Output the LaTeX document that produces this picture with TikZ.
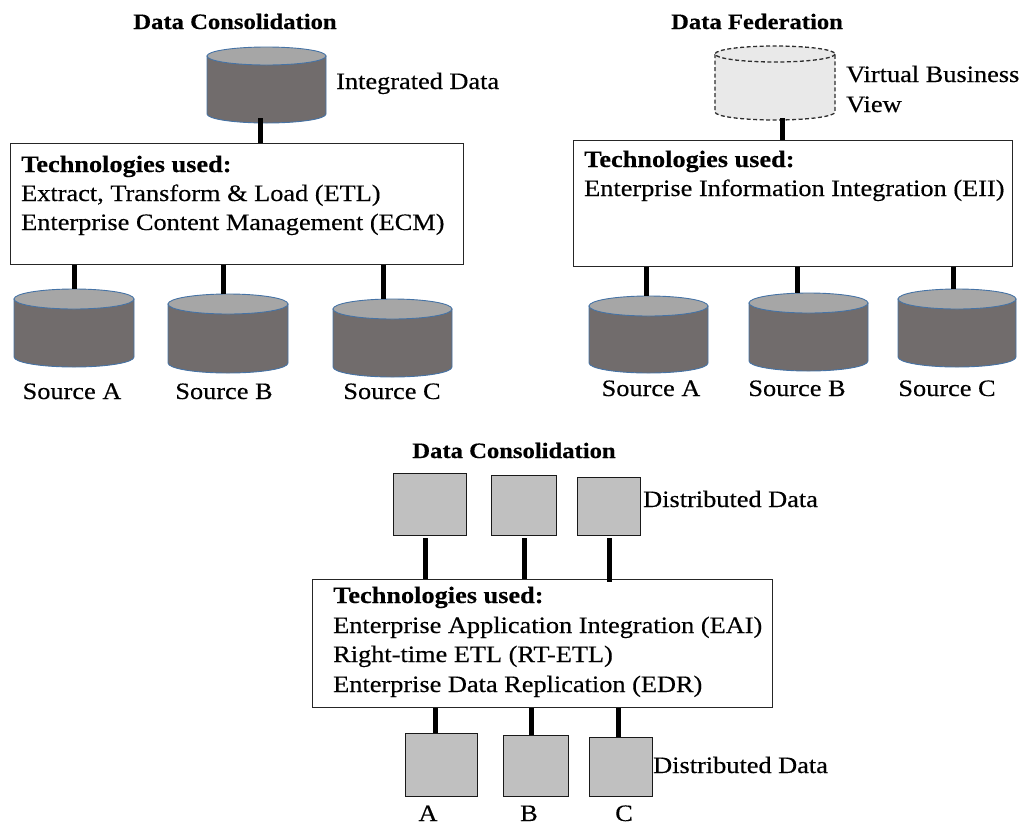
\documentclass[tikz,border=0pt]{standalone}
\usepackage{fontspec}
\setmainfont{Liberation Serif}[FakeStretch=1.12, FakeBold=0.35]
\usetikzlibrary{calc}

\definecolor{drumbody}{RGB}{113,108,108}
\definecolor{drumtop}{RGB}{166,166,166}
\definecolor{drumedge}{RGB}{70,115,165}
\definecolor{virtfill}{RGB}{233,233,233}
\definecolor{virtedge}{RGB}{45,45,45}
\definecolor{blockfill}{RGB}{192,192,192}

% drum (database cylinder): name, left, right, top, bottom, end half-height, look
\newcommand\drum[7]{%
  \pgfmathsetmacro\drumcx{(#2+#3)/2}%
  \pgfmathsetmacro\drumrx{(#3-#2)/2}%
  \node[inner sep=0, minimum width={#3-#2}, minimum height={#5-#4}, anchor=north west] (#1) at (#2,#4) {};
  \path[#7 side] (#2,#4+#6) -- (#2,#5-#6)
     arc[start angle=180, end angle=0, x radius=\drumrx, y radius=#6] -- (#3,#4+#6) -- cycle;
  \path[#7 end] (\drumcx,#4+#6) ellipse[x radius=\drumrx, y radius=#6];
}

\begin{document}
\begin{tikzpicture}[x=1pt, y=-1pt,
  conn/.style={draw=black, line width=5.2pt},
  techbox/.style={draw=black!85, line width=1.3pt, inner sep=0, anchor=north west},
  block/.style={draw=black!90, fill=blockfill, line width=1.4pt, inner sep=0, anchor=north west},
  real side/.style={fill=drumbody, draw=drumedge, line width=0.9pt},
  real end/.style={fill=drumtop, draw=drumedge, line width=0.9pt},
  virtual side/.style={fill=virtfill, draw=virtedge, line width=1.3pt, dash pattern=on 4pt off 2.5pt},
  virtual end/.style={fill=virtfill, draw=virtedge, line width=1.3pt, dash pattern=on 4pt off 2.5pt},
  txt/.style={inner sep=0, anchor=base west, font=\fontsize{23.5}{29}\selectfont},
  lbl/.style={inner sep=0, anchor=base, font=\fontsize{23.5}{29}\selectfont},
  ttl/.style={inner sep=0, anchor=base, font=\fontsize{22}{26}\selectfont\bfseries},
  head/.style={inner sep=0, anchor=base west, font=\fontsize{23.5}{29}\selectfont\bfseries}]
\useasboundingbox (0,0) rectangle (1024,825);

% ---------------- consolidation (top left) ----------------
\node[ttl] (ttlA) at (235,29) {Data Consolidation};
\node[techbox, minimum width=453, minimum height=121] (boxA) at (10,143) {};
\drum{intd}{207}{326}{47}{123}{9}{real}
\node[txt] (intdL) at (336,89) {Integrated Data};
\draw[conn] ($(intd.south)+(-6,-5)$) -- ($(intd.south |- boxA.north)+(-6,0)$);
\node[head] (hdA) at (21,172) {Technologies used:};
\node[txt] (tA1) at (21,201) {Extract, Transform \& Load (ETL)};
\node[txt] (tA2) at (21,230) {Enterprise Content Management (ECM)};

\drum{srcA1}{14}{134}{289}{367}{10}{real}
\drum{srcA2}{168}{288}{294}{373}{10}{real}
\drum{srcA3}{333}{452}{299}{377}{10}{real}
\draw[conn] (srcA1.north |- boxA.south) -- (srcA1.north);
\draw[conn] ($(srcA2.north |- boxA.south)+(-5,0)$) -- ($(srcA2.north)+(-5,0)$);
\draw[conn] ($(srcA3.north |- boxA.south)+(-9.5,0)$) -- ($(srcA3.north)+(-9.5,0)$);
\node[lbl] at (72,399) {Source A};
\node[lbl] at (224,399) {Source B};
\node[lbl] at (392,399) {Source C};

% ---------------- federation (top right) ----------------
\node[ttl] (ttlB) at (757,29) {Data Federation};
\node[techbox, minimum width=439, minimum height=126] (boxB) at (573,140) {};
\drum{virt}{715}{835}{46}{120}{8}{virtual}
\node[txt] (virtL1) at (846,82) {Virtual Business};
\node[txt] (virtL2) at (846,112) {View};
\draw[conn] ($(virt.south)+(7,-2)$) -- ($(virt.south |- boxB.north)+(7,0)$);
\node[head] (hdB) at (584,167) {Technologies used:};
\node[txt] (tB1) at (584,196) {Enterprise Information Integration (EII)};

\drum{srcB1}{589}{708}{296}{373}{10}{real}
\drum{srcB2}{749}{868}{293}{371}{10}{real}
\drum{srcB3}{898}{1016}{289}{367}{10}{real}
\draw[conn] ($(srcB1.north |- boxB.south)+(-2.5,0)$) -- ($(srcB1.north)+(-2.5,0)$);
\draw[conn] ($(srcB2.north |- boxB.south)+(-11.5,0)$) -- ($(srcB2.north)+(-11.5,0)$);
\draw[conn] ($(srcB3.north |- boxB.south)+(-4,0)$) -- ($(srcB3.north)+(-4,0)$);
\node[lbl] at (651,396) {Source A};
\node[lbl] at (797,396) {Source B};
\node[lbl] at (947,396) {Source C};

% ---------------- distributed consolidation (bottom) ----------------
\node[ttl] (ttlC) at (514,458) {Data Consolidation};
\node[block, minimum width=73, minimum height=62] (up1) at (393,473) {};
\node[block, minimum width=65, minimum height=60] (up2) at (491,475) {};
\node[block, minimum width=63, minimum height=58] (up3) at (577,477) {};
\node[txt] (upL) at (643,507) {Distributed Data};
\node[techbox, minimum width=460, minimum height=128] (boxC) at (312,579) {};
\draw[conn] ($(up1.south)+(-4.5,2)$) -- ($(up1.south |- boxC.north)+(-4.5,0)$);
\draw[conn] ($(up2.south)+(0,2)$) -- (up2.south |- boxC.north);
\draw[conn] ($(up3.south)+(0,2)$) -- ($(up3.south |- boxC.north)+(0,3)$);
\node[head] (hdC) at (333,603) {Technologies used:};
\node[txt] (tC1) at (333,633) {Enterprise Application Integration (EAI)};
\node[txt] (tC2) at (333,662) {Right-time ETL (RT-ETL)};
\node[txt] (tC3) at (333,692) {Enterprise Data Replication (EDR)};

\node[block, minimum width=72, minimum height=63] (dn1) at (405,733) {};
\node[block, minimum width=65, minimum height=61] (dn2) at (503,735) {};
\node[block, minimum width=63, minimum height=59] (dn3) at (589,737) {};
\draw[conn] ($(dn1.north |- boxC.south)+(-6,0)$) -- ($(dn1.north)+(-6,0)$);
\draw[conn] ($(dn2.north |- boxC.south)+(-4.5,0)$) -- ($(dn2.north)+(-4.5,0)$);
\draw[conn] ($(dn3.north |- boxC.south)+(-2.5,0)$) -- ($(dn3.north)+(-2.5,0)$);
\node[txt] (dnL) at (653,773) {Distributed Data};
\node[lbl] at (428,821) {A};
\node[lbl] at (529,821) {B};
\node[lbl] at (624,821) {C};
\end{tikzpicture}
\end{document}
